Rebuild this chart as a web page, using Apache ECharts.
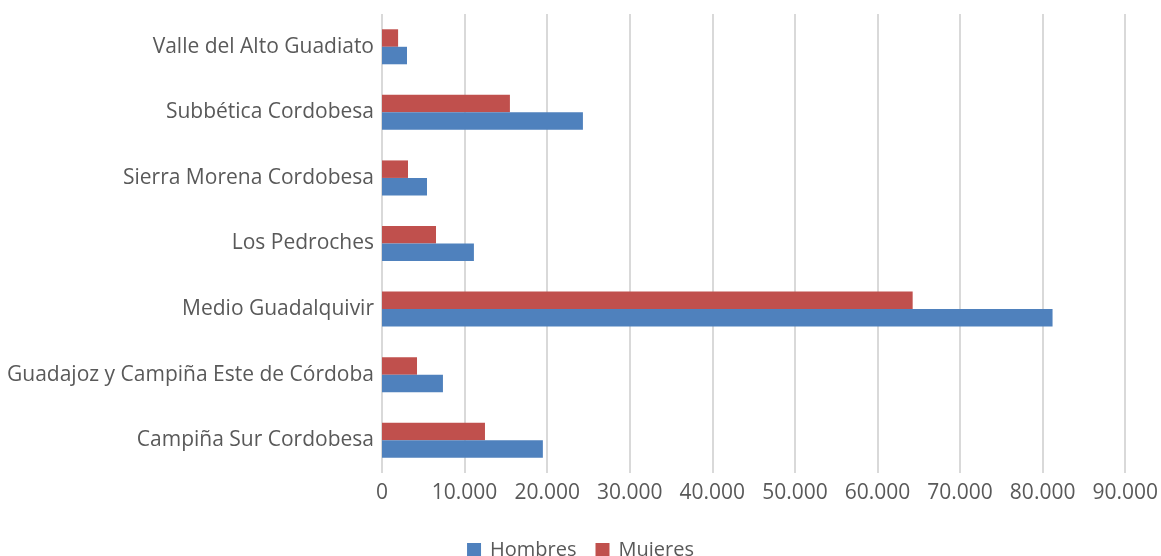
<!DOCTYPE html>
<html>
<head>
<meta charset="utf-8">
<script src="https://cdn.jsdelivr.net/npm/echarts@6/dist/echarts.min.js"></script>
<style>
html,body{margin:0;padding:0;background:#fff;}
#c{width:1161px;height:556px;}
</style>
</head>
<body>
<div id="c"></div>
<script>
const categories = [
  "Campiña Sur Cordobesa",
  "Guadajoz y Campiña Este de Córdoba",
  "Medio Guadalquivir",
  "Los Pedroches",
  "Sierra Morena Cordobesa",
  "Subbética Cordobesa",
  "Valle del Alto Guadiato"
];
const hombres = [19480, 7380, 81200, 11130, 5450, 24330, 3030];
const mujeres = [12470, 4240, 64260, 6540, 3150, 15490, 1950];
const seriesNames = ["Hombres", "Mujeres"];

const FONT = "Open Sans";
const chart = echarts.init(document.getElementById('c'), null, {renderer: 'canvas'});
chart.setOption({
  animation: false,
  backgroundColor: '#ffffff',
  textStyle: {fontFamily: FONT},
  grid: {left: 382, right: 35, top: 14, bottom: 83, containLabel: false},
  legend: {
    data: seriesNames,
    top: 535,
    left: 'center',
    itemWidth: 14,
    itemHeight: 14,
    itemGap: 19,
    icon: 'rect',
    textStyle: {fontSize: 20, color: '#595959', fontFamily: FONT, padding: [0, 0, 0, 4]}
  },
  xAxis: {
    type: 'value',
    min: 0,
    max: 90000,
    interval: 10000,
    axisLine: {show: false},
    axisTick: {show: false},
    splitLine: {show: true, lineStyle: {color: '#d9d9d9', width: 2}},
    axisLabel: {
      fontSize: 21,
      color: '#595959',
      margin: 10,
      formatter: v => v.toLocaleString('de-DE')
    }
  },
  yAxis: {
    type: 'category',
    data: categories,
    axisLine: {show: false},
    axisTick: {show: false},
    axisLabel: {fontSize: 21, color: '#595959', margin: 8}
  },
  series: [
    {name: seriesNames[1], type: 'bar', data: mujeres, barWidth: 17.5, barGap: '0%', itemStyle: {color: '#c0504d'}},
    {name: seriesNames[0], type: 'bar', data: hombres, barWidth: 17.5, barGap: '0%', itemStyle: {color: '#4f81bd'}}
  ]
});
</script>
</body>
</html>
